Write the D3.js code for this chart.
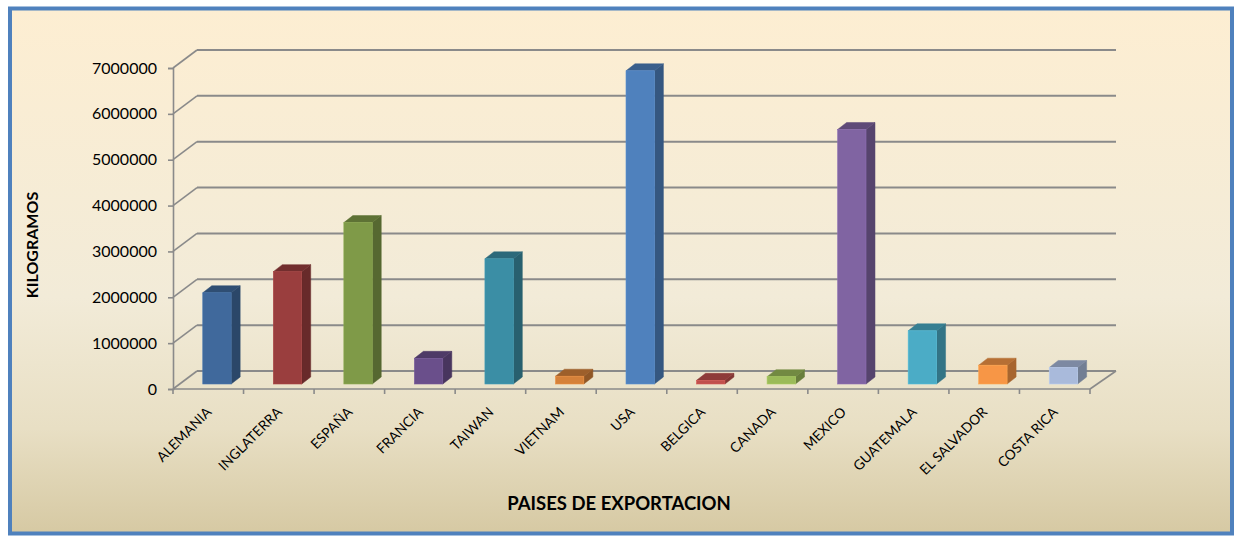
<!DOCTYPE html>
<html>
<head>
<meta charset="utf-8">
<script src="https://cdn.jsdelivr.net/npm/d3@7"></script>
<style>
  html, body { margin: 0; padding: 0; background: #ffffff; }
  svg { display: block; }
  text { font-family: Lato, "Open Sans", sans-serif; fill: #000; }
</style>
</head>
<body>
<svg id="chart" width="1235" height="537"></svg>
<script>
// Export volume by destination country (kilograms)
const countries = ["ALEMANIA", "INGLATERRA", "ESPAÑA", "FRANCIA", "TAIWAN", "VIETNAM", "USA",
                   "BELGICA", "CANADA", "MEXICO", "GUATEMALA", "EL SALVADOR", "COSTA RICA"];
const kilos = [1990000, 2450000, 3520000, 560000, 2730000, 170000, 6830000,
               80000, 160000, 5550000, 1160000, 410000, 360000];
const barColors = ["#40699C", "#9A3E3E", "#7F9A48", "#6A4F8B", "#3B8EA5", "#D5813A", "#4F81BD",
                   "#C0504D", "#9BBB59", "#8064A2", "#4BACC6", "#F79646", "#A9BADB"];
const yTicks = [0, 1000000, 2000000, 3000000, 4000000, 5000000, 6000000, 7000000];
const yTitle = "KILOGRAMOS";
const xTitle = "PAISES DE EXPORTACION";

const svg = d3.select("#chart");

// background panel with parchment gradient
const defs = svg.append("defs");
const grad = defs.append("linearGradient").attr("id", "bg")
  .attr("x1", 0).attr("y1", 0).attr("x2", 0).attr("y2", 1);
grad.append("stop").attr("offset", "0%").attr("stop-color", "#FDEED2");
grad.append("stop").attr("offset", "55%").attr("stop-color", "#F2EBD8");
grad.append("stop").attr("offset", "80%").attr("stop-color", "#E8DFC4");
grad.append("stop").attr("offset", "100%").attr("stop-color", "#D6C9A3");

svg.append("rect").attr("x", 10).attr("y", 8.5).attr("width", 1222).attr("height", 525)
  .attr("fill", "url(#bg)").attr("stroke", "#4F81BD").attr("stroke-width", 4);

// 3D frame geometry
const front = { left: 173, right: 1090, bottom: 389, top: 68 };
const depth = { dx: 24, dy: -18 };      // wall offset
const barShift = { dx: 6.7, dy: -5 };   // bar front plane offset
const side = { dx: 9, dy: -7 };         // bar thickness

const y = d3.scaleLinear().domain([0, 7000000]).range([front.bottom, front.top]);
const x = d3.scaleBand().domain(countries).range([front.left, front.right]);

const gridColor = "#8A8A8A";

// back wall gridlines with their diagonal connectors
const grid = svg.append("g");
yTicks.forEach(v => {
  const yy = y(v);
  grid.append("line")
    .attr("x1", front.left + depth.dx).attr("x2", front.right + depth.dx + 2)
    .attr("y1", yy + depth.dy).attr("y2", yy + depth.dy)
    .attr("stroke", gridColor).attr("stroke-width", 2);
  grid.append("line")
    .attr("x1", front.left).attr("y1", yy)
    .attr("x2", front.left + depth.dx).attr("y2", yy + depth.dy)
    .attr("stroke", gridColor).attr("stroke-width", 1.6);
});

// floor front edge and right side edge
grid.append("line")
  .attr("x1", front.left).attr("x2", front.right)
  .attr("y1", front.bottom).attr("y2", front.bottom)
  .attr("stroke", gridColor).attr("stroke-width", 1.6);
grid.append("line")
  .attr("x1", front.right).attr("y1", front.bottom)
  .attr("x2", front.right + depth.dx + 2).attr("y2", front.bottom + depth.dy)
  .attr("stroke", gridColor).attr("stroke-width", 1.6);

// category boundary ticks
d3.range(countries.length + 1).forEach(i => {
  const xx = front.left + i * x.step();
  grid.append("line")
    .attr("x1", xx).attr("x2", xx)
    .attr("y1", front.bottom).attr("y2", front.bottom + 5)
    .attr("stroke", gridColor).attr("stroke-width", 1.6);
});

// value axis
const yAxis = d3.axisLeft(y).tickValues(yTicks).tickFormat(d3.format("d")).tickSize(5).tickPadding(11);
const yg = svg.append("g").attr("transform", `translate(${front.left},0)`).call(yAxis);
yg.select(".domain").attr("stroke", gridColor).attr("stroke-width", 1.6);
yg.selectAll(".tick line").attr("stroke", gridColor).attr("stroke-width", 1.6);
yg.selectAll(".tick text").attr("font-size", 16).attr("fill", "#000")
  .style("font-family", "Lato, sans-serif");

// 3D columns
const barW = 28.4;
const bars = svg.append("g");
countries.forEach((c, i) => {
  const col = d3.color(barColors[i]);
  const cx = x(c) + x.bandwidth() / 2 + barShift.dx + 2;
  const x0 = cx - barW / 2, x1 = cx + barW / 2;
  const yb = y(0) + barShift.dy;
  const yt = y(kilos[i]) + barShift.dy;
  const g = bars.append("g");
  // side face
  g.append("path")
    .attr("d", `M${x1},${yb} L${x1 + side.dx},${yb + side.dy} L${x1 + side.dx},${yt + side.dy} L${x1},${yt} Z`)
    .attr("fill", col.darker(1.1)).attr("stroke", col.darker(1.1)).attr("stroke-width", 0.5);
  // top face
  g.append("path")
    .attr("d", `M${x0},${yt} L${x1},${yt} L${x1 + side.dx},${yt + side.dy} L${x0 + side.dx},${yt + side.dy} Z`)
    .attr("fill", col.darker(0.85)).attr("stroke", col.darker(0.85)).attr("stroke-width", 0.5);
  // front face
  g.append("rect")
    .attr("x", x0).attr("y", yt).attr("width", barW).attr("height", yb - yt)
    .attr("fill", barColors[i]).attr("stroke", col.brighter(0.3)).attr("stroke-width", 0.6);
});

// category labels
const xAxis = d3.axisBottom(x).tickSize(0);
const xg = svg.append("g").attr("transform", `translate(0,${front.bottom})`).call(xAxis);
xg.select(".domain").remove();
xg.selectAll(".tick text")
  .attr("font-size", 13.8).attr("fill", "#000")
  .style("font-family", "Lato, sans-serif")
  .attr("text-anchor", "end")
  .attr("y", 0).attr("dy", 0)
  .attr("transform", "translate(4,24) rotate(-45)");

// axis titles
svg.append("text")
  .attr("transform", "translate(38,245) rotate(-90)")
  .attr("text-anchor", "middle").attr("font-size", 16).attr("font-weight", "bold")
  .text(yTitle);
svg.append("text")
  .attr("x", 619).attr("y", 510)
  .attr("text-anchor", "middle").attr("font-size", 18.5).attr("font-weight", "bold")
  .text(xTitle);
</script>
</body>
</html>
